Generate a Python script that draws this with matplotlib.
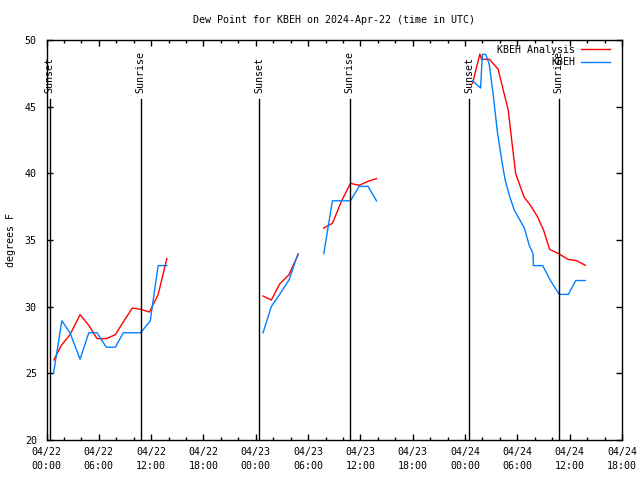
import matplotlib
matplotlib.use("Agg")
import matplotlib.pyplot as plt
from matplotlib.ticker import MultipleLocator

plt.rcParams['font.family'] = ['DejaVu Sans Mono']
FS = 7.2

title = "Dew Point for KBEH on 2024-Apr-22 (time in UTC)"
ylabel = "degrees F"

# hours since 2024-04-22 00:00 UTC
x_tick_pos = [0, 6, 12, 18, 24, 30, 36, 42, 48, 54, 60, 66]
x_tick_labels = ["04/22\n00:00", "04/22\n06:00", "04/22\n12:00", "04/22\n18:00",
                 "04/23\n00:00", "04/23\n06:00", "04/23\n12:00", "04/23\n18:00",
                 "04/24\n00:00", "04/24\n06:00", "04/24\n12:00", "04/24\n18:00"]

sunset_hours = [0.35, 24.4, 48.45]
sunrise_hours = [10.8, 34.75, 58.75]

# Analysis (red), segments separated by gaps
ana_t1 = [0.84, 1.7, 2.7, 3.85, 4.85, 5.8, 6.85, 7.9, 8.85, 9.85, 10.8, 11.8, 12.8, 13.8]
ana_v1 = [26.0, 27.1, 27.9, 29.4, 28.6, 27.6, 27.6, 27.9, 28.9, 29.9, 29.8, 29.6, 30.9, 33.6]
ana_t2 = [24.83, 25.79, 26.74, 27.81, 28.85]
ana_v2 = [30.8, 30.5, 31.7, 32.4, 33.9]
ana_t3 = [31.8, 32.79, 33.82, 34.86, 35.85, 36.88, 37.84]
ana_v3 = [35.9, 36.25, 37.9, 39.25, 39.1, 39.4, 39.6]
ana_t4 = [48.86, 49.7, 49.9, 50.8, 51.8, 52.4, 52.95, 53.35, 53.8, 54.75, 55.6,
          56.3, 57.0, 57.7, 58.8, 59.8, 60.8, 61.8]
ana_v4 = [46.75, 48.95, 48.55, 48.55, 47.8, 46.2, 44.75, 42.5, 40.0, 38.25, 37.5,
          36.75, 35.75, 34.3, 33.95, 33.55, 33.45, 33.1]

# Observations (blue)
obs_t1 = [0.8, 1.76, 2.7, 3.85, 4.85, 5.8, 6.85, 7.9, 8.8, 9.8, 10.8, 11.9, 12.8, 13.8]
obs_v1 = [24.98, 28.94, 28.04, 26.06, 28.04, 28.04, 26.96, 26.96, 28.04, 28.04, 28.04,
          28.94, 33.08, 33.08]
obs_t2 = [24.83, 25.79, 26.74, 27.81, 28.85]
obs_v2 = [28.04, 30.02, 30.92, 32.0, 33.98]
obs_t3 = [31.8, 32.79, 33.82, 34.86, 35.85, 36.88, 37.84]
obs_v3 = [33.98, 37.94, 37.94, 37.94, 39.02, 39.02, 37.94]
obs_t4 = [48.86, 49.78, 49.99, 50.37, 50.77, 51.23, 51.69, 52.2, 52.6, 53.1, 53.64,
          54.2, 54.8, 55.36, 55.80, 55.84, 56.9, 57.8, 58.8, 59.84, 60.7, 61.8]
obs_v4 = [46.94, 46.4, 48.92, 48.92, 48.2, 45.9, 43.2, 41.0, 39.5, 38.3, 37.25,
          36.6, 35.9, 34.6, 33.98, 33.08, 33.08, 31.96, 30.92, 30.92, 31.96, 31.96]

RED = "#ff0000"
BLUE = "#0080ff"

fig = plt.figure(figsize=(6.4, 4.8), dpi=100)
ax = fig.add_axes([46.5 / 640, 40 / 480, (622 - 46.5) / 640, 400 / 480])

for i, (t, v) in enumerate([(ana_t1, ana_v1), (ana_t2, ana_v2), (ana_t3, ana_v3), (ana_t4, ana_v4)]):
    ax.plot(t, v, color=RED, lw=1, label="KBEH Analysis" if i == 0 else None)
for i, (t, v) in enumerate([(obs_t1, obs_v1), (obs_t2, obs_v2), (obs_t3, obs_v3), (obs_t4, obs_v4)]):
    ax.plot(t, v, color=BLUE, lw=1, label="KBEH" if i == 0 else None)

line_top = 45.6
label_y = 46.0
for h in sunset_hours:
    ax.plot([h, h], [20, line_top], color="black", lw=1)
    ax.text(h, label_y, "Sunset", rotation=90, ha="center", va="bottom", fontsize=FS)
for h in sunrise_hours:
    ax.plot([h, h], [20, line_top], color="black", lw=1)
    ax.text(h, label_y, "Sunrise", rotation=90, ha="center", va="bottom", fontsize=FS)

ax.set_xlim(0, 66)
ax.set_ylim(20, 50)
ax.set_xticks(x_tick_pos)
ax.set_xticklabels(x_tick_labels, fontsize=FS, linespacing=1.5)
ax.xaxis.set_minor_locator(MultipleLocator(2))
ax.set_yticks([20, 25, 30, 35, 40, 45, 50])
ax.tick_params(axis="both", which="major", direction="in", length=4, width=1,
               top=True, right=True, labelsize=FS)
ax.tick_params(axis="both", which="minor", direction="in", length=2.5, width=1,
               top=True, right=True)
ax.tick_params(axis="x", which="major", pad=5)
ax.tick_params(axis="y", which="major", pad=7)
for s in ax.spines.values():
    s.set_linewidth(1)

ax.set_ylabel(ylabel, fontsize=FS, labelpad=6)
ax.set_title(title, fontsize=FS, pad=12)

leg = ax.legend(loc="upper right", bbox_to_anchor=(0.986, 0.9975), frameon=False,
                fontsize=FS, markerfirst=False, handlelength=2.9, handletextpad=0.6,
                labelspacing=0.25, borderaxespad=0.0, borderpad=0.4)
for t in leg.get_texts():
    t.set_ha("right")

fig.savefig("out.png", dpi=100)
